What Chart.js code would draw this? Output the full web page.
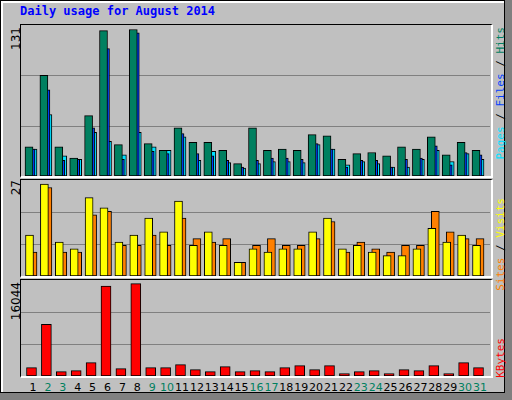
<!DOCTYPE html>
<html>
<head>
<meta charset="utf-8">
<script src="https://cdn.jsdelivr.net/npm/chart.js@4.4.1/dist/chart.umd.min.js"></script>
<style>
  body { margin: 0; background: #808080; width: 512px; height: 400px; overflow: hidden; position: relative; }
  #box { position: absolute; left: 0; top: 0; width: 503px; height: 391px; background: #c0c0c0;
         border: 1px solid #000; box-shadow: inset 2px 2px 0 #fff; }
  .t { position: absolute; font-family: "DejaVu Sans Mono", monospace; white-space: nowrap; }
  .up { writing-mode: vertical-rl; transform: rotate(180deg); }
  .panel { position: absolute; left: 20px; width: 470px; border-top: 1px solid #000; border-left: 1px solid #000;
           border-right: 2px solid #fff; border-bottom: 2px solid #fff; }
  canvas { position: absolute; }
  .day { position: absolute; top: 381px; width: 20px; margin-left: -10px; text-align: center;
         font: 11px "DejaVu Sans", sans-serif; }
</style>
</head>
<body>
<div id="box"></div>
<div class="t" style="left:20px;top:4px;font-size:12px;font-weight:bold;color:#0000ff">Daily usage for August 2014</div>
<div class="panel" style="top:24px;height:151px"></div>
<div class="panel" style="top:179px;height:96px"></div>
<div class="panel" style="top:279px;height:96px"></div>
<div class="t up" style="left:9px;top:27px;font:12px 'DejaVu Sans',sans-serif">131</div>
<div class="t up" style="left:9px;top:180px;font:12px 'DejaVu Sans',sans-serif">27</div>
<div class="t up" style="left:9px;top:282px;font:12px 'DejaVu Sans',sans-serif">16044</div>
<div class="t up" style="left:494px;top:27px;font-size:11px"><span style="color:#00e0ff">Pages</span><span style="color:#000"> / </span><span style="color:#0040ff">Files</span><span style="color:#000"> / </span><span style="color:#008060">Hits</span></div>
<div class="t up" style="left:494px;top:198px;font-size:11px"><span style="color:#ff8000">Sites</span><span style="color:#000"> / </span><span style="color:#ffff00">Visits</span></div>
<div class="t up" style="left:494px;top:338px;font-size:11px;color:#ff0000">KBytes</div>
<canvas id="c1" style="left:21px;top:25px"></canvas>
<canvas id="c2" style="left:21px;top:180px"></canvas>
<canvas id="c3" style="left:21px;top:280px"></canvas>
<div id="days"></div>
<script>
const days = Array.from({ length: 31 }, (_, i) => i + 1);
const weekend = [2, 3, 9, 10, 16, 17, 23, 24, 30, 31];
const hits = [26, 90, 26, 16, 54, 130, 28, 131, 29, 23, 43, 30, 30, 23, 11, 43, 23, 24, 23, 37, 36, 15, 20, 21, 18, 26, 24, 35, 19, 30, 23];
const files = [24, 77, 14, 15, 43, 114, 15, 128, 22, 20, 38, 20, 18, 14, 8, 14, 16, 16, 15, 29, 24, 8, 14, 14, 8, 15, 16, 27, 10, 21, 19];
const pages = [24, 55, 18, 15, 39, 31, 19, 39, 26, 23, 35, 14, 22, 12, 7, 11, 13, 13, 12, 28, 24, 10, 13, 11, 8, 8, 15, 23, 13, 20, 15];
const visits = [12, 27, 10, 8, 23, 20, 10, 12, 17, 13, 22, 9, 13, 9, 4, 8, 7, 8, 8, 13, 17, 8, 9, 7, 6, 6, 8, 14, 10, 12, 9];
const sites = [7, 26, 7, 7, 18, 19, 9, 9, 12, 9, 17, 11, 10, 11, 4, 9, 11, 9, 9, 11, 16, 7, 10, 8, 7, 9, 9, 19, 13, 11, 11];
const kbytes = [1458, 8980, 758, 933, 2332, 15624, 1283, 16044, 1458, 1458, 1982, 1108, 758, 1632, 758, 933, 758, 1458, 1807, 1108, 1807, 408, 758, 933, 408, 1108, 933, 1807, 408, 2332, 1458];

const XMIN = 0.195, XMAX = 31.67, W = 469;
const pxDay = W / (XMAX - XMIN);

const grid = {
  id: "grid",
  beforeDatasetsDraw(chart) {
    const { ctx, chartArea: a } = chart;
    ctx.save();
    ctx.strokeStyle = "#808080";
    ctx.lineWidth = 1;
    [1, 2].forEach(k => {
      const y = Math.round(a.bottom - (a.bottom - a.top) * k / 3) + 0.5;
      ctx.beginPath(); ctx.moveTo(a.left, y); ctx.lineTo(a.right, y); ctx.stroke();
    });
    ctx.restore();
  }
};

function ds(vals, offPx, color, width) {
  return {
    data: vals.map((v, i) => ({ x: days[i] + offPx / pxDay, y: v })),
    backgroundColor: color, borderColor: "#000", borderWidth: 1, barThickness: width,
    borderSkipped: false, grouped: false
  };
}

function panel(id, h, ymax, datasets) {
  const c = document.getElementById(id);
  c.width = W; c.height = h;
  c.style.width = W + "px"; c.style.height = h + "px";
  new Chart(c, {
    type: "bar",
    data: { datasets },
    plugins: [grid],
    options: {
      responsive: false, animation: false, devicePixelRatio: 1,
      layout: { padding: 0 },
      plugins: { legend: { display: false }, tooltip: { enabled: false } },
      scales: {
        x: { type: "linear", min: XMIN, max: XMAX, offset: false, display: false },
        y: { min: 0, max: ymax, display: false }
      }
    }
  });
}

panel("c1", 151, 135, [
  ds(hits, -4, "#008060", 8),
  ds(files, -2, "#0040ff", 8),
  ds(pages, 0, "#00e0ff", 8)
]);
panel("c2", 96, 28.2, [
  ds(visits, -3.5, "#ffff00", 8),
  ds(sites, 0, "#ff8000", 8)
]);
panel("c3", 96, 16680, [
  ds(kbytes, -1.5, "#ff0000", 10)
]);

const dd = document.getElementById("days");
days.forEach(d => {
  const s = document.createElement("div");
  s.className = "day";
  s.textContent = d;
  s.style.left = (21 + (d - XMIN) * pxDay) + "px";
  s.style.color = weekend.includes(d) ? "#008060" : "#000";
  dd.appendChild(s);
});
</script>
</body>
</html>
